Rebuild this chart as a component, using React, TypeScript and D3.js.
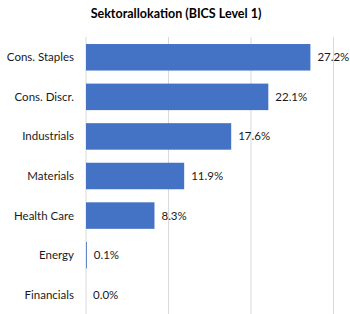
import React, { useEffect, useRef } from 'react';
import * as d3 from 'd3';

const sectors = ['Cons. Staples', 'Cons. Discr.', 'Industrials', 'Materials', 'Health Care', 'Energy', 'Financials'];
const weights = [27.2, 22.1, 17.6, 11.9, 8.3, 0.1, 0.0];
const gridTicks = [0, 10, 20, 30];

const W = 350;
const H = 314;

export default function App() {
  const ref = useRef<SVGSVGElement>(null);

  useEffect(() => {
    const svg = d3.select(ref.current);
    svg.selectAll('*').remove();

    const font = 'Lato, Carlito, sans-serif';
    const x = d3.scaleLinear().domain([0, 30]).range([86, 333.5]);
    const y = d3.scaleBand<string>().domain(sectors).range([37.5, 314.5]).paddingInner(0.33).paddingOuter(0.165);

    svg.append('text')
      .attr('x', 176)
      .attr('y', 18)
      .attr('text-anchor', 'middle')
      .attr('font-family', font)
      .attr('font-weight', 'bold')
      .attr('font-size', 12.5)
      .attr('fill', '#000')
      .text('Sektorallokation (BICS Level 1)');

    // gridlines
    svg.append('g').selectAll('line')
      .data(gridTicks)
      .enter().append('line')
      .attr('x1', d => x(d))
      .attr('x2', d => x(d))
      .attr('y1', 37)
      .attr('y2', H)
      .attr('stroke', '#d9d9d9')
      .attr('stroke-width', 1);

    const rows = sectors.map((s, i) => ({ s, v: weights[i] }));

    svg.append('g').selectAll('rect')
      .data(rows)
      .enter().append('rect')
      .attr('x', x(0))
      .attr('y', d => y(d.s)!)
      .attr('width', d => x(d.v) - x(0))
      .attr('height', y.bandwidth())
      .attr('fill', '#4472c4');

    svg.append('g').selectAll('text')
      .data(rows)
      .enter().append('text')
      .attr('x', 74)
      .attr('y', d => y(d.s)! + y.bandwidth() / 2)
      .attr('dy', '0.35em')
      .attr('text-anchor', 'end')
      .attr('font-family', font)
      .attr('font-size', 11.5)
      .attr('fill', '#1a1a1a')
      .text(d => d.s);

    svg.append('g').selectAll('text')
      .data(rows)
      .enter().append('text')
      .attr('x', d => x(d.v) + 7)
      .attr('y', d => y(d.s)! + y.bandwidth() / 2)
      .attr('dy', '0.35em')
      .attr('font-family', font)
      .attr('font-size', 11.5)
      .attr('fill', '#1a1a1a')
      .text(d => d.v.toFixed(1) + '%');
  }, []);

  return (
    <svg ref={ref} width={W} height={H} style={{ position: 'absolute', left: 0, top: 0, background: '#fff' }} />
  );
}
